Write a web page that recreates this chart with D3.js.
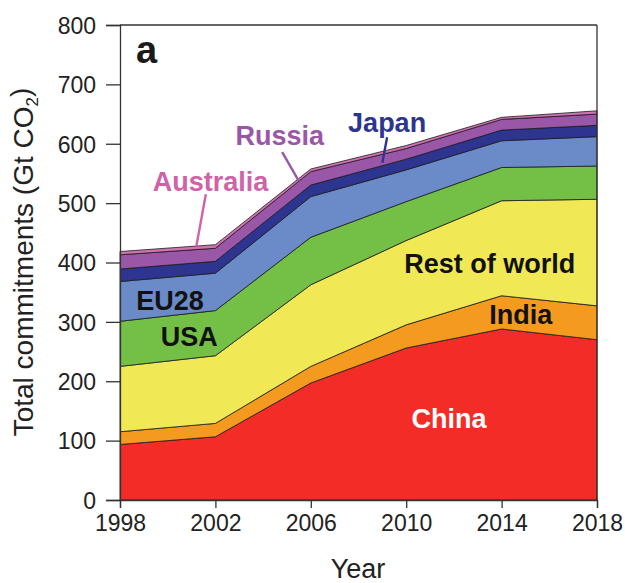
<!DOCTYPE html>
<html>
<head>
<meta charset="utf-8">
<script src="https://cdn.jsdelivr.net/npm/d3@7"></script>
<style>
  html, body { margin: 0; padding: 0; background: #fff; }
  svg text { font-family: "Liberation Sans", Arial, Helvetica, sans-serif; }
</style>
</head>
<body>
<svg id="chart" width="625" height="583"></svg>
<script>
// Years sampled
const years = [1998, 2002, 2006, 2010, 2014, 2018];

// Committed CO2 emissions by region (Gt CO2), stacked bottom to top
const china     = [93.5, 106.5, 197, 256, 288, 270];
const india     = [21.5, 22.5, 28, 39, 56, 57];
const restWorld = [110, 114, 137.5, 142, 160, 179.5];
const usa       = [76, 76, 80, 65.5, 56, 56];
const eu28      = [67, 63, 68.5, 53.5, 45, 49.5];
const japan     = [21, 20, 19.5, 18, 18, 19];
const russia    = [24, 22, 22.5, 18, 18, 19];
const australia = [5.5, 6, 4.5, 5, 3.5, 5.5];

const yTicks = [0, 100, 200, 300, 400, 500, 600, 700, 800];
const xTicks = [1998, 2002, 2006, 2010, 2014, 2018];

const keys = ["China", "India", "Rest of world", "USA", "EU28", "Japan", "Russia", "Australia"];
const seriesValues = [china, india, restWorld, usa, eu28, japan, russia, australia];
const colors = ["#f42c27", "#f49a1f", "#f0e855", "#74bf45", "#6a8bc7", "#2e3590", "#9a57a7", "#d272b4"];

const rows = years.map((yr, i) => {
  const r = { year: yr };
  keys.forEach((k, j) => { r[k] = seriesValues[j][i]; });
  return r;
});

const svg = d3.select("#chart");
const plotLeft = 120, plotRight = 597, plotTop = 25, plotBottom = 500;

const x = d3.scaleLinear().domain([1998, 2018]).range([plotLeft, plotRight]);
const y = d3.scaleLinear().domain([0, 800]).range([plotBottom, plotTop]);

const stacked = d3.stack().keys(keys)(rows);
const area = d3.area()
  .x(d => x(d.data.year))
  .y0(d => y(d[0]))
  .y1(d => y(d[1]));

svg.append("g").selectAll("path")
  .data(stacked)
  .join("path")
  .attr("d", area)
  .attr("fill", (d, i) => colors[i])
  .attr("stroke", "#1a1a1a")
  .attr("stroke-width", 0.8)
  .attr("stroke-linejoin", "round");

// Frame: top and right edges
svg.append("line").attr("x1", plotLeft).attr("x2", plotRight).attr("y1", plotTop).attr("y2", plotTop)
  .attr("stroke", "#333").attr("stroke-width", 1.3);
svg.append("line").attr("x1", plotRight).attr("x2", plotRight).attr("y1", plotTop).attr("y2", plotBottom)
  .attr("stroke", "#333").attr("stroke-width", 1.3);

// Axes
const yAxis = svg.append("g").attr("transform", `translate(${plotLeft},0)`)
  .call(d3.axisLeft(y).tickValues(yTicks).tickSize(14).tickPadding(10).tickFormat(d3.format("d")));
const xAxis = svg.append("g").attr("transform", `translate(0,${plotBottom})`)
  .call(d3.axisBottom(x).tickValues(xTicks).tickSize(8).tickPadding(7).tickFormat(d3.format("d")));

[yAxis, xAxis].forEach(g => {
  g.select(".domain").attr("stroke", "#333").attr("stroke-width", 1.3);
  g.selectAll(".tick line").attr("stroke", "#333").attr("stroke-width", 1.3);
  g.selectAll(".tick text").attr("fill", "#222").style("font-size", "23px");
});
yAxis.selectAll(".tick text").attr("dy", "0.36em");

// Axis titles
svg.append("text")
  .attr("x", 358).attr("y", 578)
  .attr("text-anchor", "middle")
  .attr("fill", "#222").style("font-size", "27px")
  .text("Year");

const yTitle = svg.append("text")
  .attr("transform", `translate(33,262) rotate(-90)`)
  .attr("text-anchor", "middle")
  .attr("fill", "#222").style("font-size", "28px");
yTitle.append("tspan").text("Total commitments (Gt CO");
yTitle.append("tspan").attr("dy", "0.3em").style("font-size", "17px").text("2");
yTitle.append("tspan").attr("dy", "-0.3em").text(")");

// Panel letter
svg.append("text")
  .attr("x", 136).attr("y", 63)
  .attr("fill", "#1a1a1a").style("font-size", "38px").style("font-weight", "bold")
  .text("a");

// Region labels, centred on points given in data coordinates
const labels = [
  { text: "China",         year: 2011.8, value: 138, color: "#ffffff" },
  { text: "India",         year: 2014.8, value: 313, color: "#111111" },
  { text: "Rest of world", year: 2013.5, value: 399, color: "#111111" },
  { text: "USA",           year: 2000.9, value: 276, color: "#111111" },
  { text: "EU28",          year: 2000.1, value: 337, color: "#111111" },
  { text: "Australia",     year: 2001.8, value: 537, color: "#cf62a8" },
  { text: "Russia",        year: 2004.7, value: 615, color: "#9a57a7" },
  { text: "Japan",         year: 2009.2, value: 637, color: "#2e3590" }
];
svg.append("g").selectAll("text")
  .data(labels)
  .join("text")
  .attr("x", d => x(d.year))
  .attr("y", d => y(d.value))
  .attr("dy", "0.36em")
  .attr("text-anchor", "middle")
  .attr("fill", d => d.color)
  .style("font-size", "27px")
  .style("font-weight", "bold")
  .text(d => d.text);

// Leader lines from small-band labels to their bands
const leaders = [
  { x1: 2001.6, v1: 515, x2: 2001.2, v2: 427, color: "#cf62a8" },
  { x1: 2004.8, v1: 586, x2: 2005.5, v2: 537, color: "#9a57a7" },
  { x1: 2009.2, v1: 611, x2: 2009.0, v2: 568, color: "#2e3590" }
];
svg.append("g").selectAll("line")
  .data(leaders)
  .join("line")
  .attr("x1", d => x(d.x1)).attr("y1", d => y(d.v1))
  .attr("x2", d => x(d.x2)).attr("y2", d => y(d.v2))
  .attr("stroke", d => d.color)
  .attr("stroke-width", 2.4);
</script>
</body>
</html>
